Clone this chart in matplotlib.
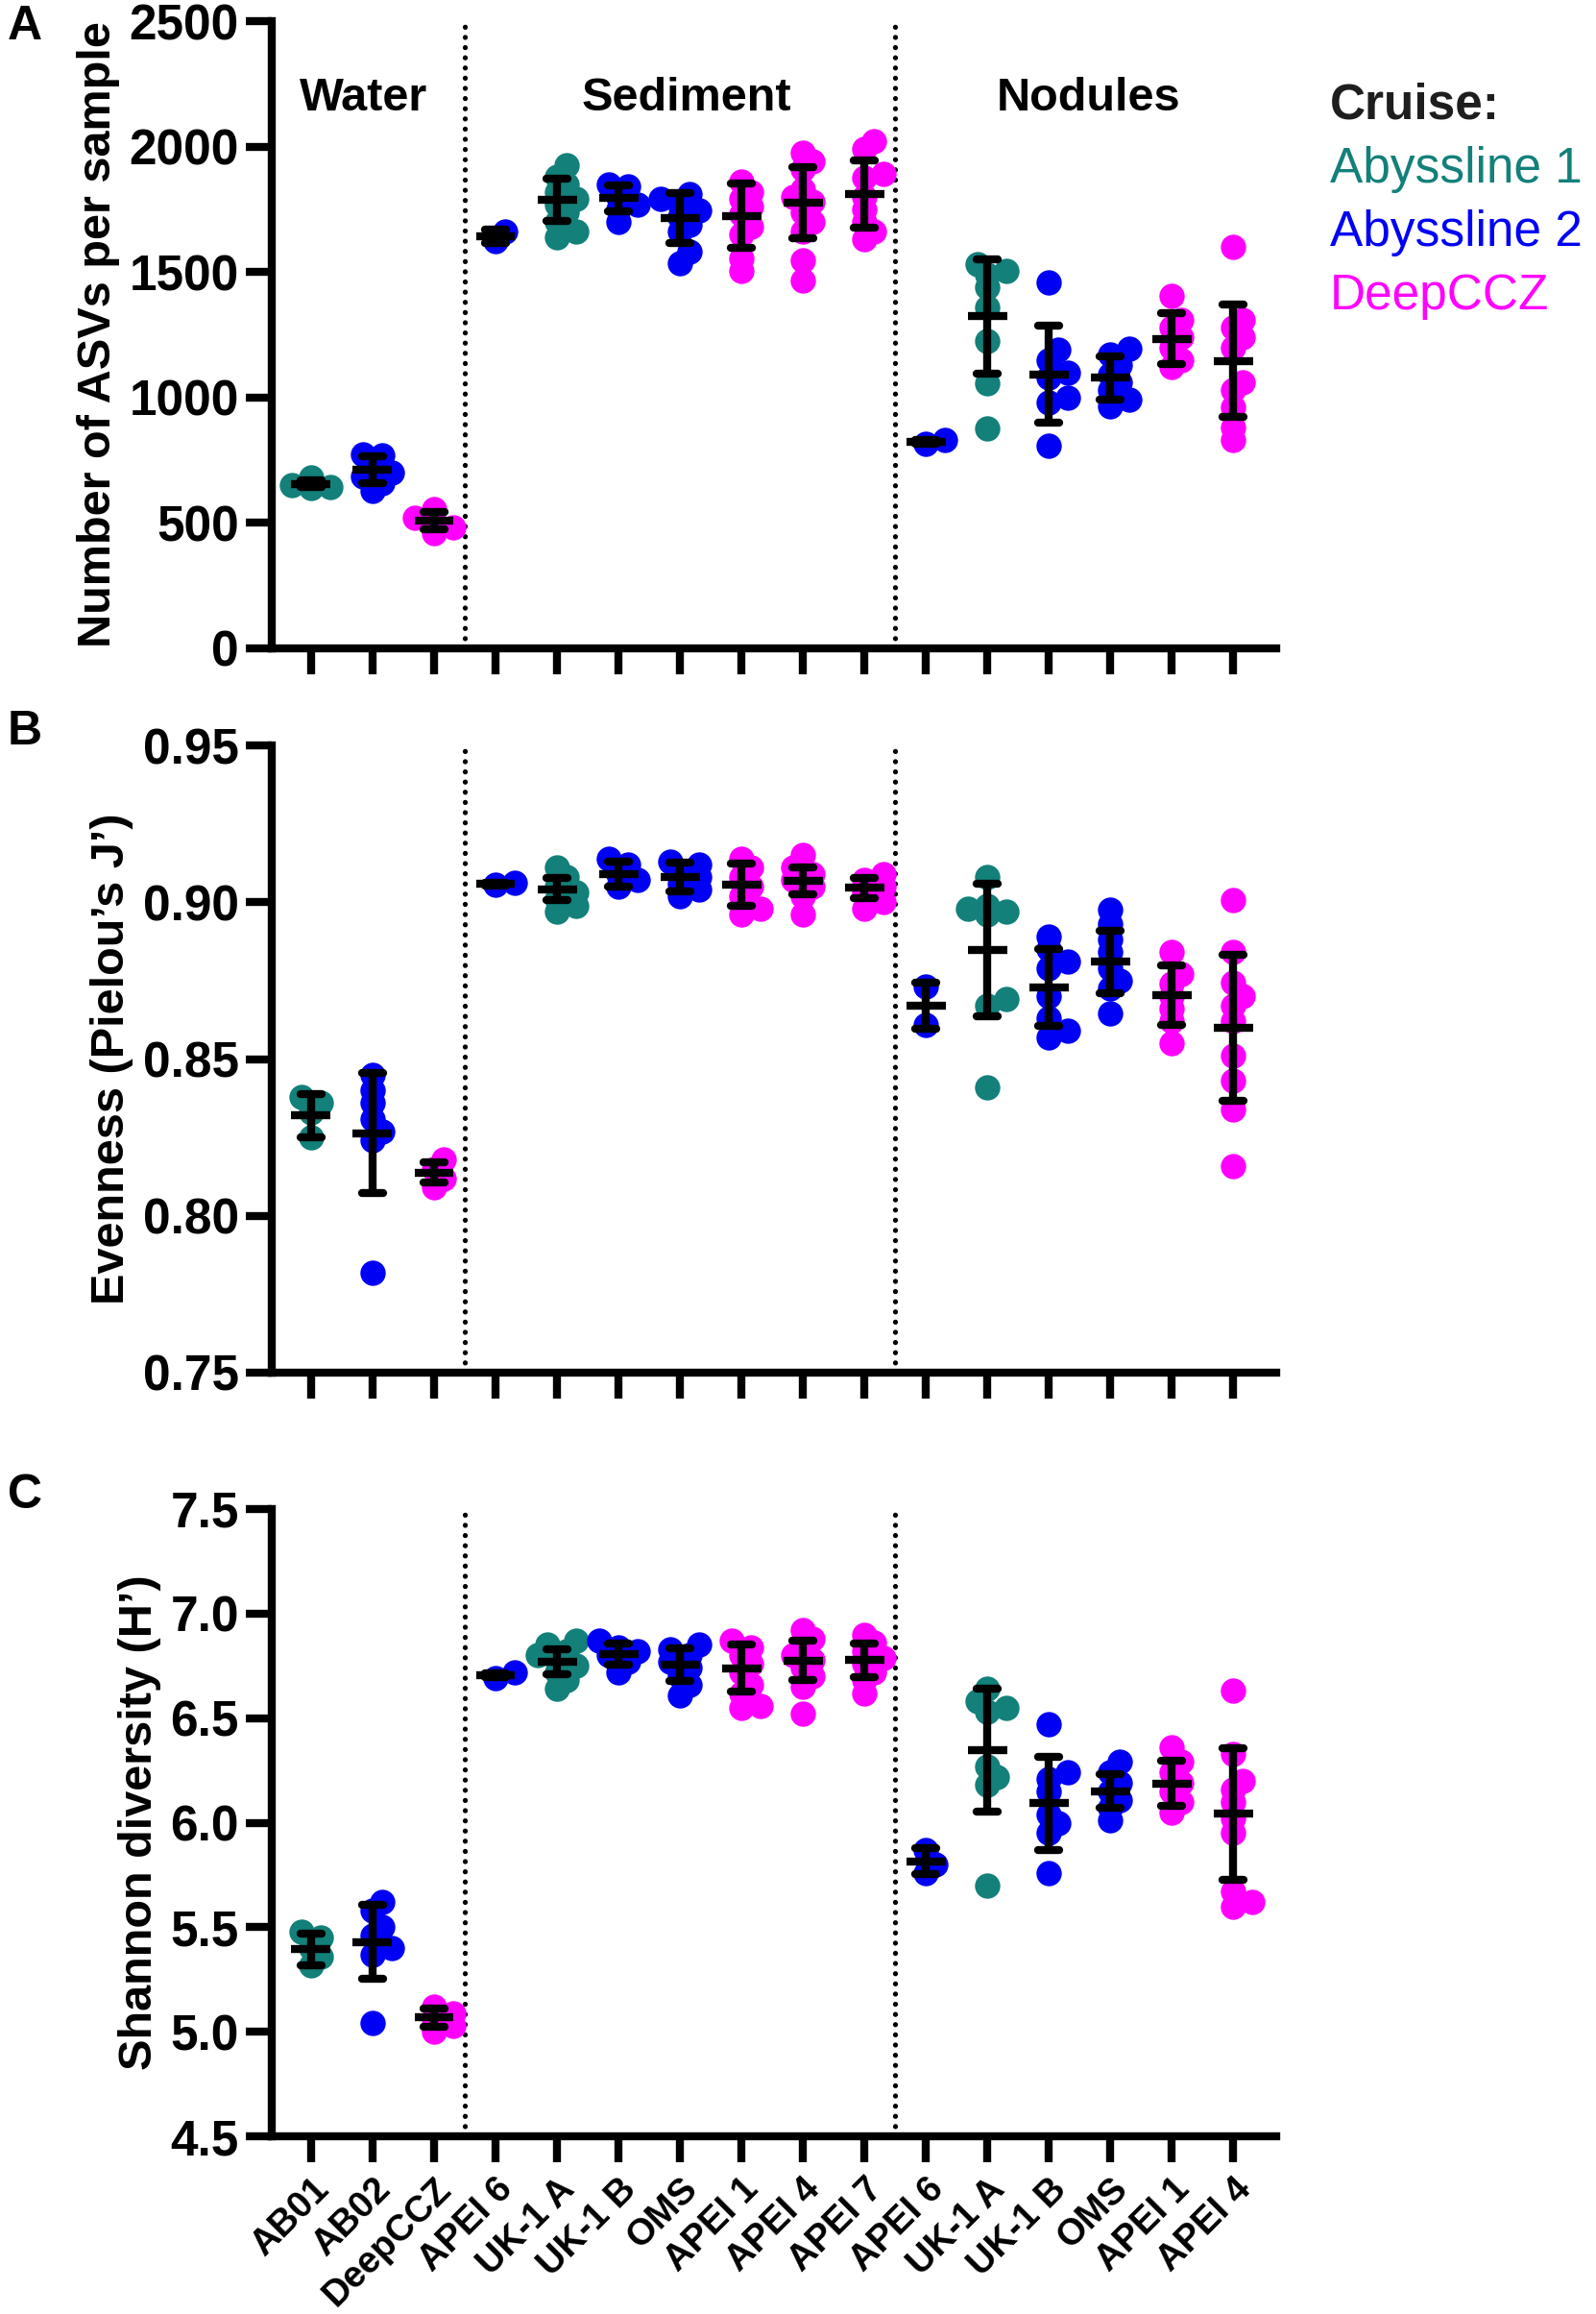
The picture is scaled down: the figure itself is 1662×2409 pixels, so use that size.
import numpy as np
import matplotlib
matplotlib.use('Agg')
import matplotlib.pyplot as plt

plt.rcParams['font.family'] = ['Liberation Sans', 'DejaVu Sans']

# Sample sites along the x axis (Water | Sediment | Nodules)
sites = ['AB01', 'AB02', 'DeepCCZ',
         'APEI 6', 'UK-1 A', 'UK-1 B', 'OMS', 'APEI 1', 'APEI 4', 'APEI 7',
         'APEI 6', 'UK-1 A', 'UK-1 B', 'OMS', 'APEI 1', 'APEI 4']
habitats = ['Water', 'Sediment', 'Nodules']
cruise_of_site = ['Abyssline 1', 'Abyssline 2', 'DeepCCZ',
                  'Abyssline 2', 'Abyssline 1', 'Abyssline 2', 'Abyssline 2', 'DeepCCZ', 'DeepCCZ', 'DeepCCZ',
                  'Abyssline 2', 'Abyssline 1', 'Abyssline 2', 'Abyssline 2', 'DeepCCZ', 'DeepCCZ']
cruises = ['Abyssline 1', 'Abyssline 2', 'DeepCCZ']
cruise_colors = {'Abyssline 1': '#13807a', 'Abyssline 2': '#0000f5', 'DeepCCZ': '#ff00ff'}

# Panel A - number of ASVs per sample
asv_points = [
    [683, 660, 645, 638, 650],
    [775, 770, 740, 700, 685, 660, 628],
    [556, 520, 505, 483, 459],
    [1663, 1623],
    [1925, 1880, 1850, 1820, 1790, 1770, 1740, 1700, 1660, 1640],
    [1850, 1840, 1800, 1770, 1750, 1700],
    [1812, 1790, 1770, 1745, 1720, 1690, 1660, 1580, 1535],
    [1860, 1820, 1790, 1760, 1730, 1680, 1650, 1555, 1505],
    [1975, 1940, 1910, 1830, 1800, 1780, 1740, 1700, 1660, 1545, 1465],
    [2020, 1990, 1890, 1875, 1800, 1750, 1700, 1660, 1630],
    [830, 815],
    [1530, 1505, 1490, 1440, 1360, 1225, 1055, 878],
    [1458, 1190, 1150, 1100, 1080, 1000, 980, 808],
    [1195, 1170, 1130, 1090, 1060, 1030, 990, 965],
    [1405, 1310, 1280, 1240, 1200, 1150, 1120],
    [1600, 1310, 1280, 1240, 1200, 1060, 1030, 960, 880, 830],
]
asv_mean = [656, 712, 509, 1643, 1788, 1795, 1714, 1724, 1777, 1811, 823, 1323, 1093, 1078, 1234, 1146]
asv_sd = [14, 54, 34, 28, 85, 52, 99, 129, 141, 134, 8, 228, 192, 85, 101, 223]

# Panel B - evenness (Pielou's J')
even_points = [
    [0.838, 0.836, 0.833, 0.825],
    [0.845, 0.840, 0.836, 0.831, 0.827, 0.824, 0.782],
    [0.818, 0.815, 0.812, 0.809],
    [0.9062, 0.9057],
    [0.911, 0.908, 0.905, 0.903, 0.901, 0.899, 0.897],
    [0.914, 0.912, 0.909, 0.907, 0.905],
    [0.913, 0.912, 0.910, 0.908, 0.906, 0.904, 0.902],
    [0.914, 0.911, 0.908, 0.905, 0.902, 0.898, 0.896],
    [0.915, 0.911, 0.909, 0.907, 0.905, 0.902, 0.896],
    [0.909, 0.907, 0.905, 0.903, 0.900, 0.898],
    [0.873, 0.861],
    [0.908, 0.899, 0.898, 0.897, 0.896, 0.869, 0.867, 0.841],
    [0.889, 0.885, 0.881, 0.879, 0.870, 0.863, 0.859, 0.857],
    [0.8975, 0.893, 0.888, 0.884, 0.879, 0.875, 0.8725, 0.8645],
    [0.884, 0.877, 0.874, 0.870, 0.866, 0.862, 0.855],
    [0.9006, 0.884, 0.8745, 0.870, 0.867, 0.862, 0.851, 0.843, 0.834, 0.816],
]
even_mean = [0.8320, 0.8264, 0.8138, 0.9058, 0.9042, 0.9090, 0.9080, 0.9057, 0.9068, 0.9046,
             0.8669, 0.8848, 0.8728, 0.8810, 0.8705, 0.8599]
even_sd = [0.0069, 0.0192, 0.0032, 0.0004, 0.0035, 0.0040, 0.0045, 0.0067, 0.0042, 0.0032,
           0.0073, 0.0212, 0.0122, 0.0099, 0.0095, 0.0233]

# Panel C - Shannon diversity (H')
shan_points = [
    [5.48, 5.45, 5.40, 5.36, 5.32],
    [5.62, 5.58, 5.50, 5.46, 5.40, 5.37, 5.04],
    [5.12, 5.09, 5.06, 5.03, 5.00],
    [6.72, 6.69],
    [6.87, 6.85, 6.82, 6.80, 6.78, 6.75, 6.72, 6.68, 6.64],
    [6.87, 6.84, 6.82, 6.80, 6.77, 6.72],
    [6.85, 6.83, 6.80, 6.77, 6.74, 6.70, 6.66, 6.61],
    [6.87, 6.84, 6.80, 6.76, 6.72, 6.66, 6.62, 6.56, 6.55],
    [6.92, 6.88, 6.84, 6.80, 6.78, 6.74, 6.70, 6.65, 6.52],
    [6.90, 6.86, 6.82, 6.79, 6.76, 6.72, 6.68, 6.62],
    [5.87, 5.80, 5.76],
    [6.64, 6.58, 6.55, 6.53, 6.27, 6.22, 6.18, 5.70],
    [6.47, 6.24, 6.21, 6.15, 6.04, 6.00, 5.95, 5.76],
    [6.29, 6.24, 6.19, 6.15, 6.11, 6.07, 6.01],
    [6.36, 6.29, 6.24, 6.19, 6.15, 6.10, 6.05],
    [6.63, 6.33, 6.20, 6.16, 6.10, 6.02, 5.95, 5.67, 5.62, 5.60],
]
shan_mean = [5.395, 5.429, 5.068, 6.705, 6.770, 6.805, 6.754, 6.738, 6.776, 6.778,
             5.816, 6.346, 6.093, 6.150, 6.188, 6.042]
shan_sd = [0.076, 0.177, 0.043, 0.010, 0.061, 0.051, 0.078, 0.112, 0.095, 0.080,
           0.062, 0.293, 0.222, 0.080, 0.108, 0.314]

W, H = 1662, 2409
fig = plt.figure(figsize=(W / 100, H / 100), dpi=100)

LW = 6.0
x = np.arange(len(sites))


def swarm(ax, xc, vals, step=10.0, mind=12.0):
    # simple beeswarm: nudge points sideways (in pixels) when they crowd each other
    ys = ax.transData.transform(np.column_stack([np.full(len(vals), xc), vals]))[:, 1]
    px_per_x = ax.transData.transform((1, 0))[0] - ax.transData.transform((0, 0))[0]
    offs = np.zeros(len(vals))
    placed = []
    for i in np.argsort(ys):
        chosen = None
        for c in [0, 1, -1, 2, -2]:
            dx = c * step
            if all(np.hypot(dx - px, ys[i] - py) >= mind for px, py in placed):
                chosen = dx
                break
        if chosen is None:
            chosen = 0.0
        placed.append((chosen, ys[i]))
        offs[i] = chosen
    return xc + offs / px_per_x


def panel(top_px, points, means, sds, ylim, yticks, ylabel, labelpad, show_x):
    ax = fig.add_axes([283 / W, 1 - (top_px + 653) / H, (1329 - 283) / W, 653 / H])
    ax.set_xlim(-0.64, 15.7)
    ax.set_ylim(*ylim)
    for s in ['top', 'right']:
        ax.spines[s].set_visible(False)
    for s in ['left', 'bottom']:
        ax.spines[s].set_linewidth(LW)
    ax.set_yticks(yticks)
    ax.set_xticks(x)
    ax.tick_params(axis='both', direction='out', length=19.5, width=LW, labelsize=37, pad=5)
    for lab in ax.get_yticklabels():
        lab.set_fontweight('bold')
    if show_x:
        ax.set_xticklabels(sites, rotation=45, ha='right', rotation_mode='anchor',
                           fontsize=27.5, fontweight='bold')
        ax.tick_params(axis='x', pad=7)
    else:
        ax.tick_params(axis='x', labelbottom=False)
    ax.set_ylabel(ylabel, fontsize=35, fontweight='bold', labelpad=labelpad)

    for xd in [2.5, 9.5]:
        ax.axvline(xd, color='black', lw=3.8, linestyle=(0, (0.01, 2.0)),
                   dash_capstyle='round', zorder=1)

    for i in range(len(sites)):
        xs = swarm(ax, x[i], points[i])
        ax.plot(xs, points[i], 'o', ms=19, mec='none',
                color=cruise_colors[cruise_of_site[i]], zorder=2, clip_on=False)
        m, sd = means[i], sds[i]
        ax.vlines(x[i], m - sd, m + sd, color='black', lw=LW, zorder=3)
        ax.hlines([m - sd, m + sd], x[i] - 0.17, x[i] + 0.17, color='black', lw=LW,
                  capstyle='round', zorder=3)
        ax.hlines(m, x[i] - 0.32, x[i] + 0.32, color='black', lw=LW, zorder=3)
    return ax


axA = panel(22, asv_points, asv_mean, asv_sd, (0, 2500), [0, 500, 1000, 1500, 2000, 2500],
            'Number of ASVs per sample', 7, False)
axB = panel(776, even_points, even_mean, even_sd, (0.75, 0.95), [0.75, 0.80, 0.85, 0.90, 0.95],
            'Evenness (Pielou\u2019s J\u2019)', 7, False)
axB.set_yticklabels(['0.75', '0.80', '0.85', '0.90', '0.95'], fontweight='bold')
axC = panel(1571, shan_points, shan_mean, shan_sd, (4.5, 7.5), [4.5, 5.0, 5.5, 6.0, 6.5, 7.0, 7.5],
            'Shannon diversity (H\u2019)', 7, True)
axC.set_yticklabels(['4.5', '5.0', '5.5', '6.0', '6.5', '7.0', '7.5'], fontweight='bold')

# habitat headers in panel A
for name, xc in zip(habitats, [0.85, 6.1, 12.65]):
    axA.text(xc, 2144, name, ha='center', va='baseline', fontsize=35, fontweight='bold')

# panel letters
for letter, yc in zip(['A', 'B', 'C'], [28, 762, 1557]):
    fig.text(8 / W, 1 - yc / H, letter, ha='left', va='center', fontsize=36, fontweight='bold')

# cruise legend
fig.text(1385 / W, 1 - 123 / H, 'Cruise:', ha='left', va='baseline', fontsize=37,
         fontweight='bold', color='#1e1e1e')
for name, yb in zip(cruises, [190, 256, 322]):
    fig.text(1385 / W, 1 - yb / H, name, ha='left', va='baseline', fontsize=37,
             color=cruise_colors[name])

fig.savefig('out.png', dpi=100)
